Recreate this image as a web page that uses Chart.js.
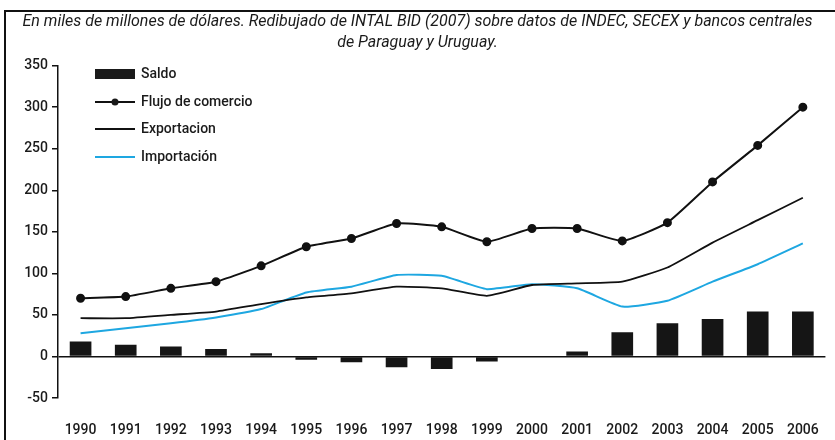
<!DOCTYPE html>
<html>
<head>
<meta charset="utf-8">
<script src="https://cdn.jsdelivr.net/npm/chart.js@4"></script>
<style>
  html, body { margin: 0; padding: 0; background: #fff; }
  #wrap { width: 835px; height: 440px; }
</style>
</head>
<body>
<div id="wrap"><canvas id="grafico"></canvas></div>
<script>
var anios = ["1990","1991","1992","1993","1994","1995","1996","1997","1998","1999","2000","2001","2002","2003","2004","2005","2006"];
var saldo = [18, 14, 12, 9, 4, -4, -7, -13, -15, -6, -1, 6, 29, 40, 45, 54, 54];
var flujo = [70, 72, 82, 90, 109, 132, 142, 160, 156, 138, 154, 154, 139, 161, 210, 254, 300];
var exportacion = [46, 46, 50, 54, 63, 71, 76, 84, 82, 73, 86, 88, 90, 107, 137, 164, 191];
var importacion = [28, 34, 40, 47, 57, 77, 84, 98, 97, 81, 87, 82, 60, 67, 90, 111, 136];
var titulo = ["En miles de millones de dólares. Redibujado de INTAL BID (2007) sobre datos de INDEC, SECEX y bancos centrales",
              "de Paraguay y Uruguay."];

var fuenteEjes = "'Roboto', 'DejaVu Sans', sans-serif";
var azul = '#1ea7e1';

// leyenda dibujada a mano, arriba a la izquierda
var leyenda = {
  id: 'leyenda',
  afterDraw: function(chart) {
    var c = chart.ctx;
    c.save();
    c.font = "500 14px " + fuenteEjes;
    c.fillStyle = '#1a1a1a';
    c.textBaseline = 'middle';
    var x0 = 95, x1 = 135, tx = 141;
    // Saldo
    c.fillRect(x0, 69, x1 - x0, 10);
    c.fillText('Saldo', tx, 74);
    // Flujo
    c.strokeStyle = '#111'; c.lineWidth = 2;
    c.beginPath(); c.moveTo(x0, 102); c.lineTo(x1, 102); c.stroke();
    c.beginPath(); c.arc(115, 102, 3.5, 0, Math.PI * 2); c.fill();
    c.fillText('Flujo de comercio', tx, 102);
    // Exportacion
    c.lineWidth = 1.8;
    c.beginPath(); c.moveTo(x0, 129); c.lineTo(x1, 129); c.stroke();
    c.fillText('Exportacion', tx, 129);
    // Importacion
    c.strokeStyle = azul; c.lineWidth = 2;
    c.beginPath(); c.moveTo(x0, 157); c.lineTo(x1, 157); c.stroke();
    c.fillText('Importación', tx, 157);
    c.restore();
  }
};

// marco del cuadro
var marco = {
  id: 'marco',
  afterDraw: function(chart) {
    var c = chart.ctx;
    c.save();
    c.strokeStyle = '#111';
    c.lineWidth = 2;
    c.beginPath();
    c.moveTo(5, 440); c.lineTo(5, 11); c.lineTo(835, 11);
    c.stroke();
    c.restore();
  }
};

var ctx = document.getElementById("grafico");

var grafico = new Chart(ctx, {
  data: {
    labels: anios,
    datasets: [{
      type: 'line',
      label: 'Flujo de comercio',
      data: flujo,
      borderColor: '#111',
      backgroundColor: '#111',
      borderWidth: 2,
      pointRadius: 3.5,
      pointHoverRadius: 3.5,
      tension: 0.15,
      order: 1
    }, {
      type: 'line',
      label: 'Exportacion',
      data: exportacion,
      borderColor: '#111',
      borderWidth: 1.8,
      pointRadius: 0,
      tension: 0.15,
      order: 2
    }, {
      type: 'line',
      label: 'Importación',
      data: importacion,
      borderColor: azul,
      borderWidth: 2,
      pointRadius: 0,
      tension: 0.15,
      order: 3
    }, {
      type: 'bar',
      label: 'Saldo',
      data: saldo,
      backgroundColor: '#151515',
      categoryPercentage: 1,
      barPercentage: 0.48,
      order: 4
    }]
  },
  options: {
    responsive: true,
    maintainAspectRatio: false,
    animation: false,
    layout: { padding: { left: 8, right: 8, top: 0, bottom: 0 } },
    plugins: {
      legend: { display: false },
      tooltip: { enabled: false },
      title: {
        display: true,
        text: titulo,
        color: '#1a1a1a',
        font: { family: "'Roboto', sans-serif", size: 16, style: 'italic', weight: 'normal', lineHeight: 1.3 },
        padding: { top: 12, bottom: 12 }
      }
    },
    scales: {
      x: {
        grid: { display: false },
        border: { display: false },
        ticks: { color: '#1a1a1a', font: { family: fuenteEjes, size: 14, weight: 500 }, padding: 16, maxRotation: 0 },
        afterFit: function(s) { s.height = 42; }
      },
      y: {
        min: -50,
        max: 350,
        border: { display: true, color: '#111', width: 1.5 },
        grid: {
          color: function(c) { return c.tick && c.tick.value === 0 ? '#111' : 'rgba(0,0,0,0)'; },
          lineWidth: 1.5,
          tickColor: '#111',
          tickLength: 6
        },
        ticks: { stepSize: 50, color: '#1a1a1a', font: { family: fuenteEjes, size: 14, weight: 500 }, padding: 4 },
        afterFit: function(s) { s.width = 50; }
      }
    }
  },
  plugins: [leyenda, marco]
});
</script>
</body>
</html>
